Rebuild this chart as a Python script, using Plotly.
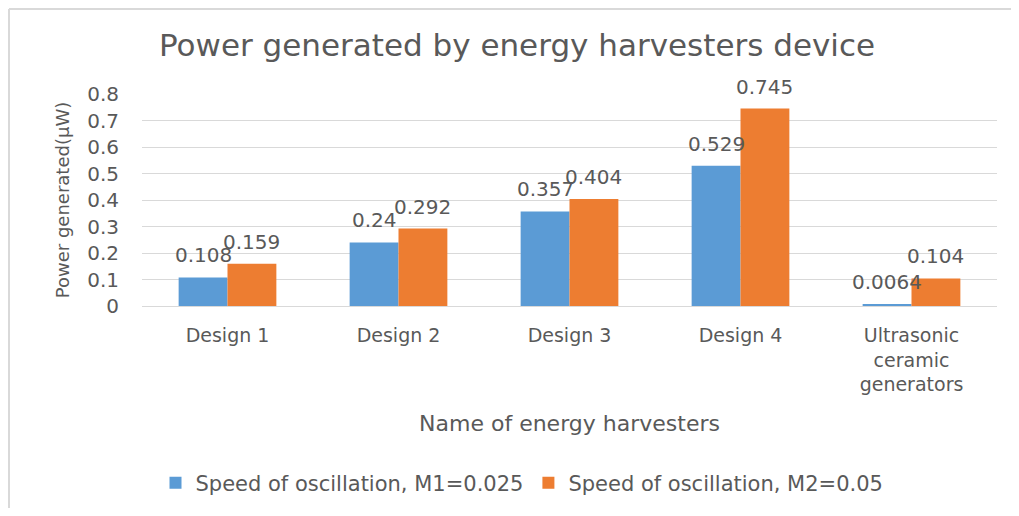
import plotly.graph_objects as go

categories = ["Design 1", "Design 2", "Design 3", "Design 4", "Ultrasonic<br>ceramic<br>generators"]
m1_values = [0.108, 0.24, 0.357, 0.529, 0.0064]
m2_values = [0.159, 0.292, 0.404, 0.745, 0.104]
m1_labels = ["0.108", "0.24", "0.357", "0.529", "0.0064"]
m2_labels = ["0.159", "0.292", "0.404", "0.745", "0.104"]
y_ticks = [0, 0.1, 0.2, 0.3, 0.4, 0.5, 0.6, 0.7, 0.8]
y_tick_labels = ["0", "0.1", "0.2", "0.3", "0.4", "0.5", "0.6", "0.7", "0.8"]
series_names = ["Speed of oscillation, M1=0.025", "Speed of oscillation, M2=0.05"]
series_colors = ["#5B9BD5", "#ED7D31"]

FONT = "DejaVu Sans"
GRAY = "#595959"

# page has an 8px body margin; keep figure inside the 1019x516 window without scrollbars
W, H = 1003, 500
L, R, T, B = 134, 14, 86, 202
pw, ph = W - L - R, H - T - B

fig = go.Figure()
for name, vals, col in zip(series_names, [m1_values, m2_values], series_colors):
    fig.add_trace(go.Bar(
        x=categories, y=vals, name=name,
        marker=dict(color=col, line=dict(width=0)),
    ))

bar_px = pw / len(categories) / 3.5
annotations = []
for vals, labs, sgn in [(m1_values, m1_labels, -1), (m2_values, m2_labels, 1)]:
    for c, v, t in zip(categories, vals, labs):
        annotations.append(dict(
            x=c, y=v, xref="x", yref="y", text=t, showarrow=False,
            xshift=sgn * bar_px / 2, yshift=22, yanchor="middle", xanchor="center",
            font=dict(family=FONT, size=20, color=GRAY),
        ))

fig.update_layout(
    width=W, height=H,
    margin=dict(l=L, r=R, t=T, b=B, autoexpand=False),
    paper_bgcolor="white", plot_bgcolor="white",
    barmode="group", bargap=1.5 / 3.5, bargroupgap=0,
    font=dict(family=FONT, color=GRAY, size=19),
    title=dict(text="Power generated by energy harvesters device",
               font=dict(family=FONT, size=31, color=GRAY),
               x=(517 - 8) / W, xanchor="center", y=1 - 37 / H, yanchor="middle"),
    xaxis=dict(
        title=dict(text="Name of energy harvesters", font=dict(family=FONT, size=22, color=GRAY), standoff=21),
        tickfont=dict(family=FONT, size=19, color=GRAY),
        showline=False, showgrid=False, ticks="", ticklabelstandoff=16,
    ),
    yaxis=dict(
        title=dict(text="Power generated(μW)", font=dict(family=FONT, size=18, color=GRAY), standoff=12),
        range=[0, 0.8], tickvals=y_ticks, ticktext=y_tick_labels,
        tickfont=dict(family=FONT, size=20, color=GRAY),
        showgrid=True, gridcolor="#D9D9D9", gridwidth=1,
        zeroline=True, zerolinecolor="#D9D9D9", zerolinewidth=1,
        showline=False, ticks="", ticklabelstandoff=22,
    ),
    legend=dict(orientation="h", x=(522 - 142) / pw, xanchor="center", y=-177 / ph, yanchor="middle",
                font=dict(family=FONT, size=21, color=GRAY), itemwidth=30,
                traceorder="normal"),
    showlegend=True,
    annotations=annotations,
)

# outer chart border (light gray): left and top edges only
fig.add_shape(type="line", xref="paper", yref="paper",
              x0=(1 - L) / pw, x1=(1 - L) / pw, y0=-B / ph, y1=1 + (T - 1) / ph,
              line=dict(color="#D9D9D9", width=2), layer="below")
fig.add_shape(type="line", xref="paper", yref="paper",
              x0=(1 - L) / pw, x1=(W - L) / pw, y0=1 + (T - 1) / ph, y1=1 + (T - 1) / ph,
              line=dict(color="#D9D9D9", width=2), layer="below")

fig.write_html("out.html")
